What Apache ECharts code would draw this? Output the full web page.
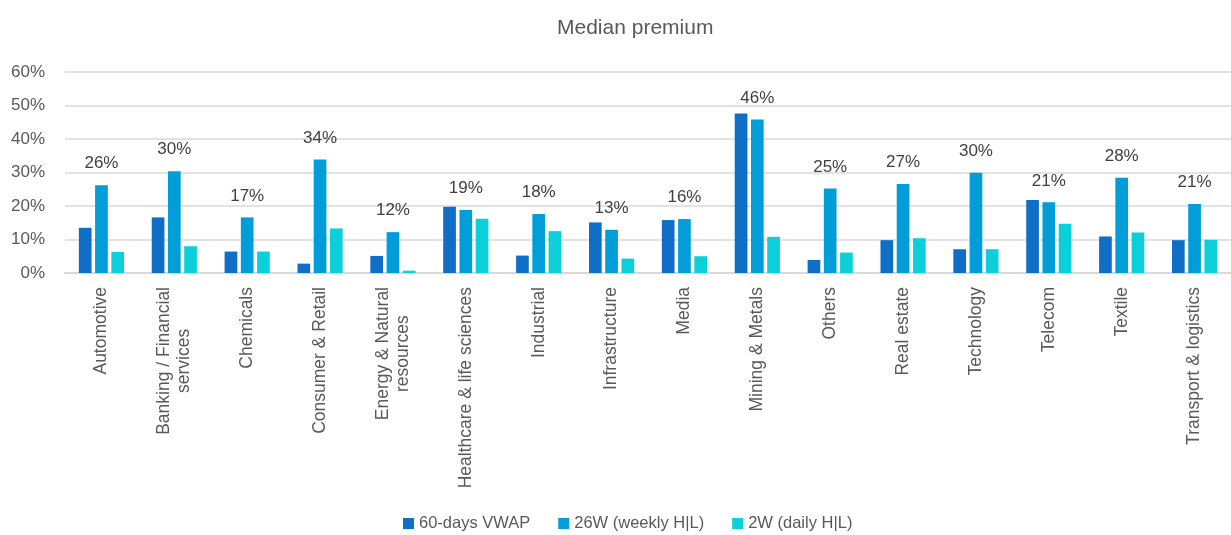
<!DOCTYPE html>
<html style="height: 100%">
<head>
    <meta charset="utf-8">
</head>
<body style="height: 100%; margin: 0; background: #fff">
<div id="container" style="width: 1231px; height: 535px"></div>
<script type="text/javascript" src="https://cdn.jsdelivr.net/npm/echarts@6/dist/echarts.min.js"></script>
<script type="text/javascript">
    var categories = ['Automotive', 'Banking / Financial\nservices', 'Chemicals', 'Consumer & Retail',
        'Energy & Natural\nresources', 'Healthcare & life sciences', 'Industrial', 'Infrastructure',
        'Media', 'Mining & Metals', 'Others', 'Real estate', 'Technology', 'Telecom', 'Textile',
        'Transport & logistics'];
    var vwap60 = [13.5, 16.6, 6.4, 2.8, 5.1, 19.8, 5.2, 15.1, 15.8, 47.6, 3.9, 9.8, 7.1, 21.8, 10.9, 9.8];
    var weekly26 = [26.2, 30.4, 16.6, 33.9, 12.2, 18.8, 17.6, 12.9, 16.1, 45.8, 25.2, 26.6, 29.9, 21.1, 28.4, 20.6];
    var daily2 = [6.3, 8.0, 6.4, 13.3, 0.7, 16.2, 12.5, 4.3, 5.0, 10.8, 6.1, 10.4, 7.1, 14.7, 12.1, 9.9];
    var seriesNames = ['60-days VWAP', '26W (weekly H|L)', '2W (daily H|L)'];
    var colors = ['#0F6FC6', '#009DD9', '#0BD0D9'];

    var FONT = '"Liberation Sans", Arial, sans-serif';
    var myChart = echarts.init(document.getElementById('container'));

    // 每个系列一根柱子
    function makeSeries(name, data, idx) {
        var s = {
            name: name,
            type: 'bar',
            data: data,
            barGap: '28%',
            barCategoryGap: '38%',
            itemStyle: {color: colors[idx]},
            animation: false
        };
        if (idx === 1) {
            s.label = {
                show: true,
                position: 'top',
                distance: 13,
                color: '#404040',
                fontSize: 17,
                fontFamily: FONT,
                formatter: function (p) {
                    return Math.round(p.value) + '%';
                }
            };
        }
        return s;
    }

    var option = {
        backgroundColor: '#fff',
        color: colors,
        title: {
            text: 'Median premium',
            left: 552,
            top: 13,
            textStyle: {fontSize: 21, fontWeight: 'normal', color: '#595959', fontFamily: FONT}
        },
        legend: {
            bottom: -2,
            left: 398,
            icon: 'rect',
            itemWidth: 11,
            itemHeight: 11,
            itemGap: 28,
            textStyle: {fontSize: 16.5, color: '#595959', fontFamily: FONT},
            data: seriesNames
        },
        grid: {left: 65, right: -9, top: 72, bottom: 262, containLabel: false},
        xAxis: {
            type: 'category',
            data: categories,
            axisTick: {show: false},
            axisLine: {lineStyle: {color: '#D9D9D9', width: 2}},
            axisLabel: {
                rotate: 90,
                interval: 0,
                margin: 14,
                formatter: function (v) {
                    return v.split('\n').map(function (s) { return '{c|' + s + '}'; }).join('\n');
                },
                rich: {
                    c: {fontSize: 17.5, color: '#595959', fontFamily: FONT, align: 'center', lineHeight: 20}
                }
            }
        },
        yAxis: {
            type: 'value',
            min: 0,
            max: 60,
            interval: 10,
            axisLine: {show: false},
            axisTick: {show: false},
            axisLabel: {
                formatter: '{value}%',
                fontSize: 17,
                color: '#595959',
                fontFamily: FONT,
                margin: 20
            },
            splitLine: {lineStyle: {color: '#D9D9D9', width: 1.5}}
        },
        series: [
            makeSeries(seriesNames[0], vwap60, 0),
            makeSeries(seriesNames[1], weekly26, 1),
            makeSeries(seriesNames[2], daily2, 2)
        ]
    };
    myChart.setOption(option);
</script>
</body>
</html>
